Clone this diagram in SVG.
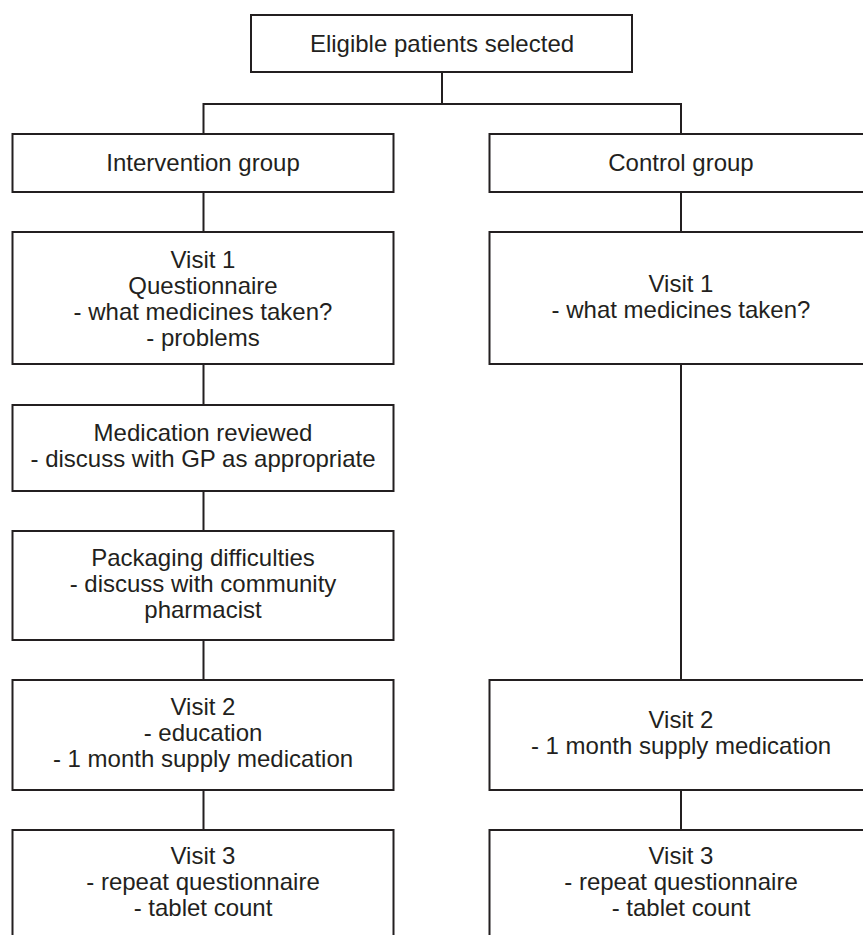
<svg xmlns="http://www.w3.org/2000/svg" width="863" height="935" viewBox="0 0 863 935">
<style>
.box{fill:#fff;stroke:#231f20;stroke-width:2}
.t{font-family:"Liberation Sans",Arial,sans-serif;font-size:24px;fill:#231f20;text-anchor:middle}
.c{fill:none;stroke:#231f20;stroke-width:2}
</style>
<rect width="863" height="935" fill="#fff"/>
<g id="connectors">
<path class="c" d="M442 72V104M203.5 104H681M203.5 103V134M681 103V134"/>
<path class="c" d="M203.5 192V232M203.5 364V405M203.5 491V531M203.5 640V680M203.5 790V830"/>
<path class="c" d="M681 192V232M681 364V680M681 790V830"/>
</g>
<g id="eligible">
<rect class="box" x="251" y="15" width="381" height="57"/>
<text class="t" x="442" y="52">Eligible patients selected</text>
</g>
<g id="intervention">
<rect class="box" x="12.5" y="134" width="381" height="58"/>
<text class="t" x="203" y="171">Intervention group</text>
</g>
<g id="control">
<rect class="box" x="489.5" y="134" width="385" height="58"/>
<text class="t" x="681" y="171">Control group</text>
</g>
<g id="int-visit1">
<rect class="box" x="12.5" y="232" width="381" height="132"/>
<text class="t" x="203" y="268">Visit 1</text>
<text class="t" x="203" y="294">Questionnaire</text>
<text class="t" x="203" y="320">- what medicines taken?</text>
<text class="t" x="203" y="346">- problems</text>
</g>
<g id="ctl-visit1">
<rect class="box" x="489.5" y="232" width="385" height="132"/>
<text class="t" x="681" y="292">Visit 1</text>
<text class="t" x="681" y="318">- what medicines taken?</text>
</g>
<g id="med-review">
<rect class="box" x="12.5" y="405" width="381" height="86"/>
<text class="t" x="203" y="441">Medication reviewed</text>
<text class="t" x="203" y="467">- discuss with GP as appropriate</text>
</g>
<g id="packaging">
<rect class="box" x="12.5" y="531" width="381" height="109"/>
<text class="t" x="203" y="566">Packaging difficulties</text>
<text class="t" x="203" y="592">- discuss with community</text>
<text class="t" x="203" y="618">pharmacist</text>
</g>
<g id="int-visit2">
<rect class="box" x="12.5" y="680" width="381" height="110"/>
<text class="t" x="203" y="715">Visit 2</text>
<text class="t" x="203" y="741">- education</text>
<text class="t" x="203" y="767">- 1 month supply medication</text>
</g>
<g id="ctl-visit2">
<rect class="box" x="489.5" y="680" width="385" height="110"/>
<text class="t" x="681" y="728">Visit 2</text>
<text class="t" x="681" y="754">- 1 month supply medication</text>
</g>
<g id="int-visit3">
<rect class="box" x="12.5" y="830" width="381" height="120"/>
<text class="t" x="203" y="864">Visit 3</text>
<text class="t" x="203" y="890">- repeat questionnaire</text>
<text class="t" x="203" y="916">- tablet count</text>
</g>
<g id="ctl-visit3">
<rect class="box" x="489.5" y="830" width="385" height="120"/>
<text class="t" x="681" y="864">Visit 3</text>
<text class="t" x="681" y="890">- repeat questionnaire</text>
<text class="t" x="681" y="916">- tablet count</text>
</g>
</svg>
